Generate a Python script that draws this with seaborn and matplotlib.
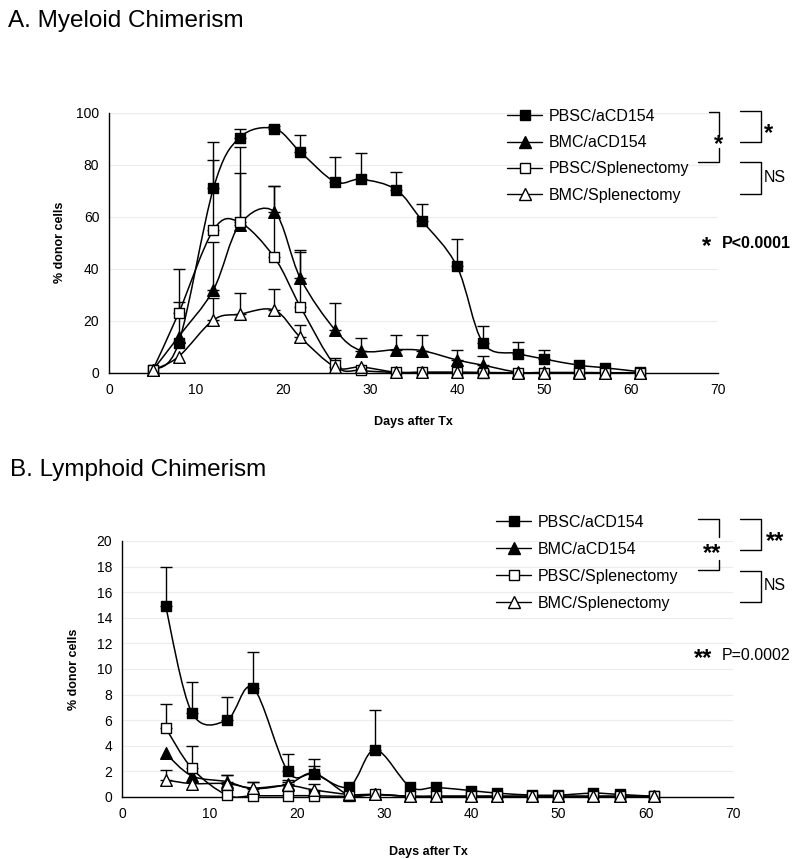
import numpy as np
import matplotlib
matplotlib.use("Agg")
import matplotlib.pyplot as plt
from matplotlib.path import Path
from matplotlib.patches import PathPatch
from matplotlib.lines import Line2D
import seaborn as sns

# ---------------- data ----------------
days = [5, 8, 12, 15, 19, 22, 26, 29, 33, 36, 40, 43, 47, 50, 54, 57, 61]
series_names = ["PBSC/aCD154", "BMC/aCD154", "PBSC/Splenectomy", "BMC/Splenectomy"]

# Myeloid chimerism (% donor cells)
my_pbsc_cd154 = [1, 11.5, 71, 90.5, 94, 85, 73.5, 74.5, 70.5, 58.5, 41, 11.5, 7.5, 5.4, 3, 2, 0.5]
my_pbsc_cd154_err = [0, 16, 18, 3.5, 1, 6.5, 9.5, 10, 7, 6.5, 10.5, 6.5, 4.5, 3.5, 0, 0, 0]
my_bmc_cd154 = [1, 14, 32, 57, 62, 36.4, 16.5, 8.6, 9, 8.6, 5, 3, 0.3, 0.2, 0.2, 0.1, 0.1]
my_bmc_cd154_err = [0, 0, 18.5, 20, 10, 11, 10.3, 5, 5.5, 6, 4, 3.5, 0, 0, 0, 0, 0]
my_pbsc_splx = [1, 23, 55, 58, 44.5, 25.5, 3, 1, 0.2, 0.2, 0.2, 0.1, 0.1, 0.1, 0.1, 0.1, 0.1]
my_pbsc_splx_err = [0, 17, 27, 29, 27.5, 21, 0, 0, 0, 0, 0, 0, 0, 0, 0, 0, 0]
my_bmc_splx = [1, 6.3, 20.4, 22.6, 24.2, 13.7, 2.3, 2.3, 0.3, 0.3, 0.3, 0.2, 0.1, 0.1, 0.1, 0.1, 0.1]
my_bmc_splx_err = [0, 0, 8.4, 8.3, 8.1, 4.8, 3.4, 0, 0, 0, 0, 0, 0, 0, 0, 0, 0]

# Lymphoid chimerism (% donor cells)
ly_pbsc_cd154 = [14.9, 6.6, 6.0, 8.55, 2.0, 1.8, 0.8, 3.7, 0.8, 0.75, 0.5, 0.3, 0.15, 0.15, 0.3, 0.2, 0.05]
ly_pbsc_cd154_err = [3.1, 2.35, 1.85, 2.75, 1.35, 1.2, 0, 3.1, 0, 0, 0, 0, 0, 0, 0, 0, 0]
ly_bmc_cd154 = [3.4, 1.65, 1.2, 0.65, 1.0, 1.85, 0.15, 0.2, 0.05, 0.05, 0.05, 0.05, 0.05, 0.05, 0.05, 0.05, 0.05]
ly_bmc_cd154_err = [0, 0, 0.5, 0.5, 0.3, 0.6, 0, 0, 0, 0, 0, 0, 0, 0, 0, 0, 0]
ly_pbsc_splx = [5.4, 2.25, 0.15, 0.1, 0.1, 0.1, 0.05, 0.2, 0.05, 0.05, 0.05, 0.05, 0.05, 0.05, 0.05, 0.05, 0.05]
ly_pbsc_splx_err = [1.85, 1.7, 0, 0, 0, 0, 0, 0, 0, 0, 0, 0, 0, 0, 0, 0, 0]
ly_bmc_splx = [1.33, 1.05, 1.05, 0.7, 0.9, 0.55, 0.2, 0.2, 0.05, 0.05, 0.05, 0.05, 0.05, 0.05, 0.05, 0.05, 0.05]
ly_bmc_splx_err = [0.8, 0, 0.65, 0.5, 0.3, 0.5, 0, 0, 0, 0, 0, 0, 0, 0, 0, 0, 0]

# ---------------- style ----------------
sns.set_style("white")
plt.rcParams['font.family'] = ['Liberation Sans', 'DejaVu Sans']
plt.rcParams['text.color'] = 'black'
plt.rcParams['axes.labelcolor'] = 'black'
plt.rcParams['xtick.color'] = 'black'
plt.rcParams['ytick.color'] = 'black'

W, H = 800, 859
fig = plt.figure(figsize=(W / 100, H / 100), dpi=100)


def fx(x):
    return x / W


def fy(y):
    return 1 - y / H


styles = [
    dict(marker='s', face='black', s=55),
    dict(marker='^', face='black', s=70),
    dict(marker='s', face='white', s=55),
    dict(marker='^', face='white', s=70),
]


def smooth_path(x, y):
    pts = np.column_stack([np.asarray(x, float), np.asarray(y, float)])
    verts = [pts[0]]
    codes = [Path.MOVETO]
    n = len(pts)
    for i in range(n - 1):
        p0 = pts[i - 1] if i > 0 else pts[i]
        p1 = pts[i]
        p2 = pts[i + 1]
        p3 = pts[i + 2] if i + 2 < n else pts[i + 1]
        c1 = p1 + (p2 - p0) / 6.0
        c2 = p2 - (p3 - p1) / 6.0
        verts += [c1, c2, p2]
        codes += [Path.CURVE4] * 3
    return Path(verts, codes)


def draw_panel(ax, data, errs, ymax, ystep):
    ax.set_xlim(0, 70)
    ax.set_ylim(0, ymax)
    for k, (vals, err) in enumerate(zip(data, errs)):
        st = styles[k]
        patch = PathPatch(smooth_path(days, vals), facecolor='none', edgecolor='black',
                          lw=1.1, zorder=2 + k * 0.1)
        ax.add_patch(patch)
        d = np.array(days, float)
        v = np.array(vals, float)
        e = np.array(err, float)
        m = e > 0
        if m.any():
            ax.errorbar(d[m], v[m], yerr=[np.zeros(m.sum()), e[m]], fmt='none',
                        ecolor='black', elinewidth=1.0, capsize=4, capthick=1.0,
                        zorder=2.5)
        sns.scatterplot(x=days, y=vals, marker=st['marker'], s=st['s'], color=st['face'],
                        edgecolor='black', linewidth=1.0, ax=ax, zorder=4 + k * 0.1,
                        clip_on=False, legend=False)
    ax.set_xticks(np.arange(0, 71, 10))
    ax.set_yticks(np.arange(0, ymax + 0.01, ystep))
    ax.set_yticklabels([f"{int(t)}" for t in np.arange(0, ymax + 0.01, ystep)])
    ax.yaxis.grid(True, color='#ececec', lw=0.8)
    ax.xaxis.grid(False)
    ax.set_axisbelow(True)
    for sp in ['top', 'right']:
        ax.spines[sp].set_visible(False)
    for sp in ['left', 'bottom']:
        ax.spines[sp].set_color('black')
        ax.spines[sp].set_linewidth(1.0)
    ax.tick_params(axis='both', direction='out', length=4, width=1, color='black',
                   labelcolor='black', labelsize=10, pad=3)
    ax.set_xlabel("")
    ax.set_ylabel("")


# ---------------- panel A ----------------
ax1 = fig.add_axes([fx(109), fy(373), fx(718 - 109), (373 - 113) / H])
draw_panel(ax1,
           [my_pbsc_cd154, my_bmc_cd154, my_pbsc_splx, my_bmc_splx],
           [my_pbsc_cd154_err, my_bmc_cd154_err, my_pbsc_splx_err, my_bmc_splx_err],
           100, 20)

# ---------------- panel B ----------------
ax2 = fig.add_axes([fx(122), fy(797), fx(733 - 122), (797 - 541) / H])
draw_panel(ax2,
           [ly_pbsc_cd154, ly_bmc_cd154, ly_pbsc_splx, ly_bmc_splx],
           [ly_pbsc_cd154_err, ly_bmc_cd154_err, ly_pbsc_splx_err, ly_bmc_splx_err],
           20, 2)

# titles and axis labels
fig.text(fx(8), fy(27), "A. Myeloid Chimerism", fontsize=17.5, ha='left', va='baseline')
fig.text(fx(10), fy(476), "B. Lymphoid Chimerism", fontsize=17.5, ha='left', va='baseline')
fig.text(fx(413), fy(422), "Days after Tx", fontsize=9, fontweight='bold', ha='center', va='center')
fig.text(fx(428), fy(852), "Days after Tx", fontsize=9, fontweight='bold', ha='center', va='center')
fig.text(fx(60), fy(242), "% donor cells", fontsize=9, fontweight='bold', rotation=90,
         ha='center', va='center')
fig.text(fx(74), fy(669), "% donor cells", fontsize=9, fontweight='bold', rotation=90,
         ha='center', va='center')

# legends
handles = [Line2D([0], [0], color='black', lw=1.0, marker=st['marker'],
                  markerfacecolor=st['face'], markeredgecolor='black',
                  markersize=7.5 if st['marker'] == 's' else 8.5)
           for st in styles]
for (lx, ly, sp) in [(507, 109, 0.7), (496, 515, 0.75)]:
    fig.legend(handles, series_names, loc='upper left', bbox_to_anchor=(fx(lx), fy(ly)),
               frameon=False, fontsize=11.5, handlelength=2.2, handletextpad=0.4,
               labelspacing=sp, borderpad=0, borderaxespad=0)


def bracket(pts):
    xs = [fx(p[0]) for p in pts]
    ys = [fy(p[1]) for p in pts]
    fig.add_artist(Line2D(xs, ys, transform=fig.transFigure, color='black', lw=1.0))


ast = dict(fontsize=17, fontweight='bold', ha='center', va='center')

# panel A annotations
bracket([(709, 112), (719, 112), (719, 136)])
bracket([(719, 148), (719, 162), (698, 162)])
fig.text(fx(718), fy(145), "*", **ast)
bracket([(740, 111), (761, 111), (761, 142), (740, 142)])
fig.text(fx(769), fy(134), "*", **ast)
bracket([(740, 162), (761, 162), (761, 194), (740, 194)])
fig.text(fx(764), fy(178), "NS", fontsize=11.5, ha='left', va='center')
fig.text(fx(706), fy(247), "*", **ast)
fig.text(fx(722), fy(243), "P<0.0001", fontsize=11.5, fontweight='bold', ha='left', va='center')

# panel B annotations
bracket([(698, 519), (719, 519), (719, 537)])
bracket([(719, 560), (719, 570), (698, 570)])
fig.text(fx(712), fy(554), "**", **ast)
bracket([(740, 519), (761, 519), (761, 550), (740, 550)])
fig.text(fx(775), fy(542), "**", **ast)
bracket([(740, 571), (761, 571), (761, 602), (740, 602)])
fig.text(fx(764), fy(586), "NS", fontsize=11.5, ha='left', va='center')
fig.text(fx(703), fy(659), "**", **ast)
fig.text(fx(722), fy(655), "P=0.0002", fontsize=11.5, ha='left', va='center')

fig.savefig("out.png", dpi=100)
